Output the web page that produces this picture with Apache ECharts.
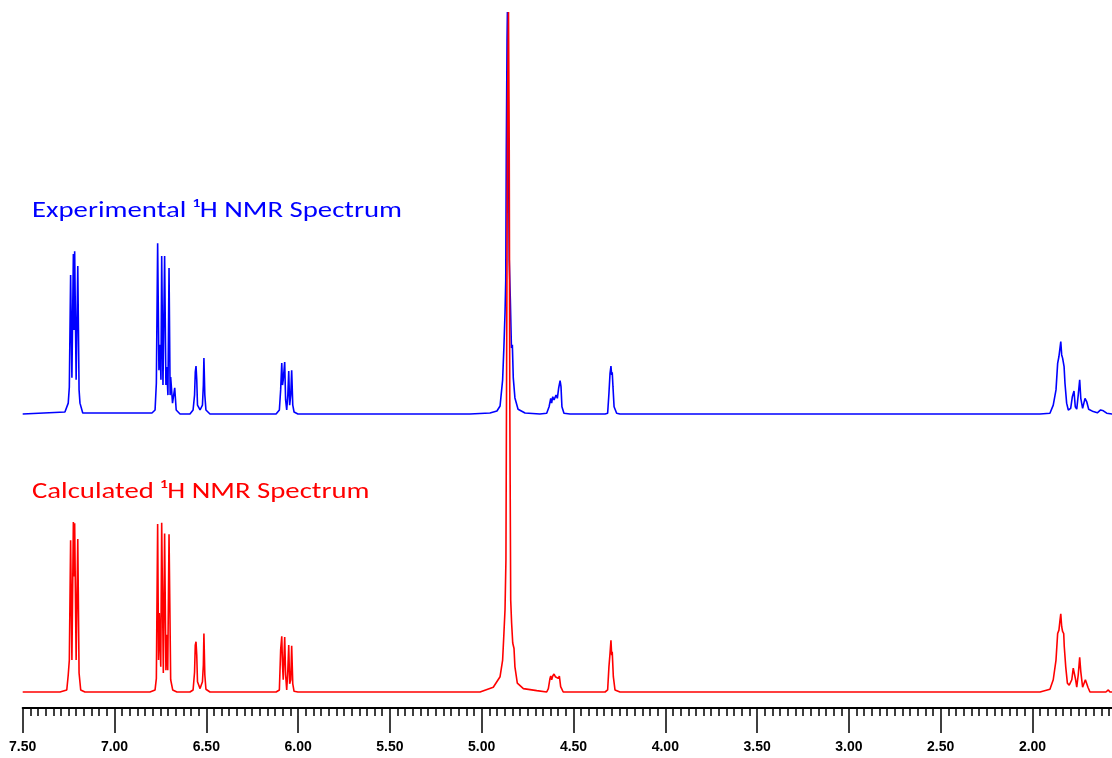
<!DOCTYPE html>
<html>
<head>
<meta charset="utf-8">
<script src="https://cdn.jsdelivr.net/npm/echarts@6/dist/echarts.min.js"></script>
<style>
  html, body { margin: 0; padding: 0; background: #fff; }
  #chart { width: 1112px; height: 758px; }
</style>
</head>
<body>
<div id="chart"></div>
<script>
(() => {
    'use strict'

    // chemical shift (ppm), intensity -- experimental trace (blue)
    const expArom1 = [[7.50, 0], [7.270, 0.5], [7.252, 2.7], [7.246, 6.7], [7.239, 34.6], [7.232, 9.0], [7.224, 39.8], [7.221, 20.9], [7.217, 40.5], [7.209, 8.5], [7.200, 36.8], [7.193, 6.0], [7.188, 2.7], [7.173, 0.25]]
    const expArom2 = [[6.796, 0.25], [6.779, 1.0], [6.772, 7.7], [6.765, 42.5], [6.758, 10.9], [6.752, 17.2], [6.747, 8.5], [6.743, 39.3], [6.736, 7.2], [6.727, 39.3], [6.720, 7.2], [6.716, 11.7], [6.709, 4.7], [6.703, 36.3], [6.697, 4.7], [6.694, 9.2], [6.684, 2.7], [6.672, 6.5], [6.664, 1.0], [6.643, 0]]
    const expVinyl1 = [[6.589, 0], [6.572, 1.0], [6.564, 4.7], [6.560, 10.4], [6.556, 11.9], [6.552, 8.5], [6.548, 2.2], [6.534, 1.0], [6.521, 2.2], [6.516, 7.2], [6.513, 13.9], [6.508, 4.7], [6.502, 1.0], [6.480, 0]]
    const expVinyl2 = [[6.120, 0], [6.102, 1.0], [6.095, 6.0], [6.089, 12.7], [6.085, 7.2], [6.081, 8.5], [6.073, 12.9], [6.068, 3.5], [6.062, 1.0], [6.056, 4.7], [6.051, 10.7], [6.046, 2.2], [6.040, 4.7], [6.035, 10.9], [6.029, 2.2], [6.022, 0.5], [6.001, 0]]
    const expSolvent = [[5.064, 0], [4.955, 0.25], [4.917, 0.75], [4.900, 2.0], [4.886, 8.5], [4.879, 16.7], [4.873, 25.1], [4.869, 33.3], [4.866, 65.7], [4.862, 93.0], [4.860, 100.0], [4.857, 93.0], [4.854, 65.7], [4.850, 38.3], [4.844, 28.4], [4.838, 16.4], [4.833, 17.2], [4.828, 9.0], [4.819, 4.0], [4.802, 1.2], [4.764, 0.25], [4.683, 0]]
    const expMid = [[4.646, 0.2], [4.633, 1.8], [4.624, 3.9], [4.619, 2.7], [4.613, 4.3], [4.606, 3.5], [4.595, 4.7], [4.588, 3.9], [4.581, 6.4], [4.573, 8.3], [4.568, 6.8], [4.563, 1.8], [4.552, 0.2], [4.519, 0], [4.328, 0], [4.314, 0.2], [4.307, 5.1], [4.301, 10.1], [4.296, 11.9], [4.292, 9.7], [4.289, 10.4], [4.285, 6.8], [4.279, 1.8], [4.265, 0.2], [4.247, 0]]
    const expAliph = [[1.959, 0], [1.905, 0.2], [1.887, 2.2], [1.872, 6.0], [1.863, 12.6], [1.856, 14.3], [1.846, 18.0], [1.841, 14.7], [1.836, 13.9], [1.828, 11.8], [1.823, 7.6], [1.814, 2.7], [1.805, 1.0], [1.792, 1.4], [1.783, 4.3], [1.774, 5.7], [1.767, 1.8], [1.759, 1.2], [1.751, 4.7], [1.743, 8.5], [1.737, 3.9], [1.727, 1.4], [1.714, 3.9], [1.705, 3.1], [1.694, 1.2], [1.669, 0.6], [1.647, 0.3], [1.629, 1.0], [1.614, 0.8], [1.596, 0.2], [1.567, 0], [1.50, 0]]

    // chemical shift (ppm), intensity -- calculated trace (red)
    const calcArom1 = [[7.50, 0], [7.297, 0], [7.260, 0.3], [7.252, 2.5], [7.246, 4.7], [7.239, 22.3], [7.232, 4.7], [7.224, 25.0], [7.221, 17.0], [7.217, 24.8], [7.209, 4.7], [7.200, 22.5], [7.193, 2.8], [7.184, 0.3], [7.161, 0]]
    const calcArom2 = [[6.807, 0], [6.779, 0.3], [6.772, 2.0], [6.765, 24.7], [6.760, 4.7], [6.756, 11.6], [6.748, 3.7], [6.743, 24.9], [6.734, 2.8], [6.727, 23.3], [6.720, 3.2], [6.716, 8.4], [6.710, 3.2], [6.703, 23.2], [6.694, 1.8], [6.683, 0.3], [6.660, 0]]
    const calcVinyl1 = [[6.589, 0], [6.572, 0.3], [6.564, 2.9], [6.560, 6.9], [6.556, 7.4], [6.552, 5.4], [6.548, 1.5], [6.534, 0.5], [6.521, 1.5], [6.516, 4.0], [6.513, 8.6], [6.508, 2.5], [6.502, 0.4], [6.480, 0]]
    const calcVinyl2 = [[6.120, 0], [6.102, 0.3], [6.095, 6.2], [6.089, 8.2], [6.085, 4.0], [6.081, 1.8], [6.073, 8.1], [6.068, 2.5], [6.062, 0.3], [6.056, 3.2], [6.051, 6.9], [6.046, 1.2], [6.040, 1.8], [6.035, 6.8], [6.029, 1.2], [6.022, 0.1], [6.001, 0]]
    const calcSolvent = [[5.064, 0], [5.009, 0], [4.937, 0.7], [4.900, 2.25], [4.886, 4.7], [4.879, 8.6], [4.873, 12.1], [4.868, 19.4], [4.863, 57.6], [4.859, 87.1], [4.854, 100.0], [4.850, 79.7], [4.847, 42.9], [4.842, 13.5], [4.837, 10.1], [4.831, 7.2], [4.824, 6.4], [4.819, 3.7], [4.806, 1.3], [4.773, 0.5], [4.700, 0.2], [4.646, 0]]
    const calcMid = [[4.637, 0.5], [4.628, 2.0], [4.624, 2.35], [4.619, 1.8], [4.613, 2.35], [4.606, 2.65], [4.599, 2.25], [4.592, 2.5], [4.583, 2.0], [4.577, 2.35], [4.570, 0.8], [4.556, 0], [4.519, 0], [4.328, 0], [4.314, 0.3], [4.307, 3.7], [4.301, 5.7], [4.296, 7.6], [4.292, 5.4], [4.289, 5.9], [4.283, 2.25], [4.274, 0.3], [4.247, 0]]
    const calcAliph = [[1.959, 0], [1.905, 0.4], [1.887, 1.8], [1.872, 4.7], [1.863, 8.6], [1.856, 9.1], [1.850, 10.6], [1.846, 11.5], [1.841, 9.6], [1.836, 8.9], [1.830, 8.6], [1.827, 6.7], [1.819, 3.7], [1.810, 1.3], [1.800, 1.0], [1.786, 1.8], [1.778, 3.5], [1.770, 3.7], [1.765, 1.8], [1.759, 0.7], [1.751, 2.5], [1.743, 5.1], [1.737, 3.0], [1.727, 0.7], [1.712, 1.8], [1.705, 2.0], [1.698, 0.7], [1.687, 0], [1.600, 0], [1.587, 0.3], [1.578, 0], [1.50, 0]]

    const expSpectrum = [].concat(expArom1, expArom2, expVinyl1, expVinyl2, expSolvent, expMid, expAliph)
    const calcSpectrum = [].concat(calcArom1, calcArom2, calcVinyl1, calcVinyl2, calcSolvent, calcMid, calcAliph)

    const ppmMin = 1.5
    const ppmMax = 7.5
    const ppmStep = 0.5

    const titleFont = 'Carlito, Calibri, Lato, sans-serif'
    const axisFont = '"Liberation Sans", Arial, sans-serif'

    const chart = echarts.init(document.getElementById('chart'))

    chart.setOption({
        animation: false,
        backgroundColor: '#ffffff',
        grid: {
            left: 22.7,
            width: 1101.6,
            top: 10,
            bottom: 50,
            outerBoundsMode: 'none',
            containLabel: false
        },
        xAxis: {
            type: 'value',
            inverse: true,
            min: ppmMin,
            max: ppmMax,
            interval: ppmStep,
            axisLine: {onZero: false, lineStyle: {color: '#000', width: 2}},
            axisTick: {length: 25, lineStyle: {color: '#000', width: 1.5}},
            minorTick: {show: true, splitNumber: 12, length: 8, lineStyle: {color: '#000', width: 1.5}},
            splitLine: {show: false},
            axisLabel: {
                margin: 32,
                color: '#000',
                fontFamily: axisFont,
                fontWeight: 'bold',
                fontSize: 14,
                showMaxLabel: true,
                showMinLabel: false,
                formatter: v => v.toFixed(2)
            }
        },
        yAxis: [
            {type: 'value', show: false, min: -73.134, max: 100.498},
            {type: 'value', show: false, min: -2.353, max: 100.294}
        ],
        graphic: [
            {
                type: 'text',
                x: 32,
                y: 211,
                scaleX: 1.25,
                style: {text: 'Experimental ¹H NMR Spectrum', fill: '#0000ff', font: '23px ' + titleFont, verticalAlign: 'middle'}
            },
            {
                type: 'text',
                x: 32,
                y: 492,
                scaleX: 1.25,
                style: {text: 'Calculated ¹H NMR Spectrum', fill: '#ff0000', font: '23px ' + titleFont, verticalAlign: 'middle'}
            }
        ],
        series: [
            {
                name: 'Experimental',
                type: 'line',
                yAxisIndex: 0,
                showSymbol: false,
                silent: true,
                lineStyle: {color: '#0000ff', width: 1.6},
                data: expSpectrum
            },
            {
                name: 'Calculated',
                type: 'line',
                yAxisIndex: 1,
                showSymbol: false,
                silent: true,
                lineStyle: {color: '#ff0000', width: 1.6},
                data: calcSpectrum
            }
        ]
    })
})()
</script>
</body>
</html>
